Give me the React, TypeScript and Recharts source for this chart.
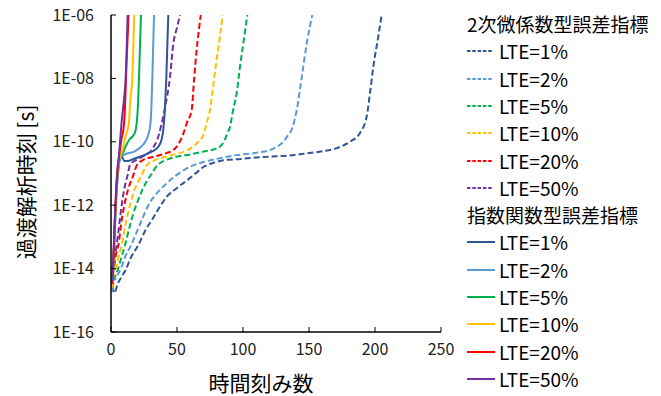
import React from 'react';
import { LineChart, Line, XAxis, YAxis } from 'recharts';

// ---- data: [time-step count, transient analysis time (s)] ----
// 2次微係数型誤差指標 (dashed)
const quadLte1: [number, number][] = [
  [1, 2.8e-15], [2.5, 1.7e-15], [5, 3.2e-15], [8, 5.6e-15], [11, 8.9e-15], [15, 2.2e-14],
  [20.7, 5.5e-14], [26, 1.6e-13], [32, 4.0e-13], [37, 8.9e-13], [42, 1.8e-12], [50, 3.5e-12],
  [58, 6.3e-12], [64, 1.0e-11], [70, 1.6e-11], [78, 2.2e-11], [88, 2.7e-11], [95, 2.8e-11],
  [110, 3.2e-11], [120, 3.4e-11], [135, 3.7e-11], [146, 4.2e-11], [160, 5.0e-11], [171, 6.3e-11],
  [181, 1.0e-10], [188.6, 1.9e-10], [193.7, 6.3e-10], [196.2, 3.4e-9], [198.7, 2.3e-8],
  [202.5, 2.1e-7], [205, 1e-6],
];
const quadLte2: [number, number][] = [
  [1, 5.6e-15], [3, 4.5e-15], [5, 6.3e-15], [7.5, 1.0e-14], [11, 2.5e-14], [15.2, 5.5e-14],
  [20, 1.6e-13], [24, 4.0e-13], [28.3, 1.0e-12], [34, 2.2e-12], [41, 4.4e-12], [48, 7.9e-12],
  [55, 1.26e-11], [62, 1.8e-11], [70, 2.3e-11], [82, 3.0e-11], [95, 3.8e-11], [105, 4.2e-11],
  [113, 4.7e-11], [120.5, 5.5e-11], [126, 7.1e-11], [130.5, 1.0e-10], [134, 1.6e-10],
  [137, 2.5e-10], [140.7, 1.0e-9], [144.5, 1.1e-8], [148.3, 1.26e-7], [152.5, 1e-6],
];
const quadLte5: [number, number][] = [
  [1, 4.5e-15], [3, 5.6e-15], [5, 8.9e-15], [7.5, 2.0e-14], [10.6, 5.5e-14], [14, 2.0e-13],
  [17, 5.6e-13], [20, 1.26e-12], [24, 3.2e-12], [27, 5.6e-12], [31, 1.0e-11], [34, 1.6e-11],
  [37, 2.1e-11], [43, 2.8e-11], [50, 3.4e-11], [60, 4.0e-11], [70, 4.9e-11], [77, 5.6e-11],
  [82.6, 7.1e-11], [86, 1.1e-10], [88, 1.8e-10], [90.2, 3.0e-10], [92.5, 1.0e-9], [95.2, 3.4e-9],
  [97.5, 2.0e-8], [100.2, 1.26e-7], [103.3, 1e-6],
];
const quadLte10: [number, number][] = [
  [1, 5.0e-15], [3, 7.9e-15], [5.5, 2.2e-14], [8.1, 5.5e-14], [11, 2.5e-13], [14.4, 1.0e-12],
  [18, 3.2e-12], [23.2, 8.9e-12], [27, 1.8e-11], [32, 2.5e-11], [37, 3.0e-11], [43, 3.5e-11],
  [50, 4.2e-11], [56, 5.0e-11], [62.3, 7.1e-11], [66, 1.0e-10], [69.9, 1.6e-10], [72.5, 4.0e-10],
  [75, 1.0e-9], [77.5, 6.3e-9], [80, 3.8e-8], [82.5, 2.0e-7], [84.6, 1e-6],
];
const quadLte20: [number, number][] = [
  [1, 6.3e-15], [2.5, 1.26e-14], [4, 3.2e-14], [5.6, 5.5e-14], [8, 3.2e-13], [10.1, 1.0e-12],
  [13, 3.2e-12], [16.9, 8.9e-12], [19.5, 1.8e-11], [24.5, 2.7e-11], [30, 3.2e-11], [36, 3.7e-11],
  [42, 4.4e-11], [47.2, 5.5e-11], [51, 8.3e-11], [54.8, 1.8e-10], [57.5, 4.0e-10], [61.1, 1.0e-9],
  [63, 1.0e-8], [64.9, 7.9e-8], [66.5, 3.2e-7], [68, 1e-6],
];
const quadLte50: [number, number][] = [
  [1, 1.0e-14], [2.5, 2.0e-14], [4.3, 5.5e-14], [6, 2.0e-13], [8.1, 1.0e-12], [10, 3.2e-12],
  [12.6, 8.9e-12], [14.4, 1.9e-11], [17, 2.4e-11], [20, 2.8e-11], [25.8, 3.8e-11], [30, 5.0e-11],
  [32.5, 7.1e-11], [35, 1.15e-10], [38, 3.2e-10], [41, 1.26e-9], [44.7, 1.1e-8], [47.2, 1.26e-7],
  [50, 4.0e-7], [52.3, 1e-6],
];

// 指数関数型誤差指標 (solid)
const expLte1: [number, number][] = [
  [1, 2.0e-15], [2, 2.0e-14], [3, 2.5e-13], [4, 2.0e-12], [5, 7.9e-12], [6, 2.0e-11],
  [7.8, 3.8e-11], [10, 2.5e-11], [13, 2.5e-11], [18, 3.0e-11], [23, 3.5e-11], [27.5, 4.2e-11],
  [32, 5.2e-11], [36, 7.1e-11], [38.5, 1.26e-10], [39.5, 2.2e-10], [40.8, 1.0e-9], [41.9, 1.0e-8],
  [43.4, 1e-6],
];
const expLte2: [number, number][] = [
  [1, 2.0e-15], [2, 2.0e-14], [3, 2.5e-13], [4, 2.0e-12], [5, 7.9e-12], [6, 2.0e-11],
  [8, 3.5e-11], [11.6, 4.2e-11], [18, 5.0e-11], [23, 7.1e-11], [26.5, 1.1e-10], [28.5, 1.8e-10],
  [29.5, 2.8e-10], [30.3, 6.3e-10], [31.3, 1.0e-8], [32.6, 1e-6],
];
const expLte5: [number, number][] = [
  [1, 2.5e-15], [2, 2.5e-14], [3, 3.2e-13], [4, 2.5e-12], [5, 1.0e-11], [6, 2.5e-11],
  [8, 3.8e-11], [9.3, 4.7e-11], [11.6, 7.9e-11], [14.1, 1.2e-10], [17, 1.6e-10], [18.5, 2.2e-10],
  [19.5, 4.0e-10], [20.5, 1.6e-9], [21.2, 1.0e-8], [22.7, 1e-6],
];
const expLte10: [number, number][] = [
  [1, 2.5e-15], [2, 2.5e-14], [3, 3.2e-13], [4, 2.5e-12], [5, 1.0e-11], [6, 2.5e-11],
  [7, 3.5e-11], [8, 4.5e-11], [9, 6.3e-11], [10.5, 1.15e-10], [12, 2.0e-10], [13.6, 4.0e-10],
  [14.6, 2.0e-9], [16.1, 1.0e-8], [17.6, 1e-6],
];
const expLte20: [number, number][] = [
  [1, 3.2e-15], [2, 3.2e-14], [3, 4.0e-13], [4, 3.2e-12], [5, 1.26e-11], [6, 3.2e-11],
  [7, 6.3e-11], [8, 1.26e-10], [9.3, 2.3e-10], [10.1, 4.9e-10], [10.8, 2.1e-9], [11.8, 3.2e-8],
  [13.3, 1e-6],
];
const expLte50: [number, number][] = [
  [1, 4.0e-15], [2, 4.0e-14], [3, 5.0e-13], [4, 4.0e-12], [5, 1.6e-11], [6, 3.5e-11],
  [7, 1.26e-10], [8, 4.0e-10], [9.8, 2.1e-9], [11.1, 1.0e-8], [12.6, 1e-6],
];

const lteLabels = ['LTE=1%', 'LTE=2%', 'LTE=5%', 'LTE=10%', 'LTE=20%', 'LTE=50%'];
const lteColors = ['#2F5597', '#5B9BD5', '#00B050', '#FFC000', '#FF0000', '#7030A0'];
const groupTitles = ['2次微係数型誤差指標', '指数関数型誤差指標'];

const xTicks = [0, 50, 100, 150, 200, 250];
const yTicks = [1e-16, 1e-14, 1e-12, 1e-10, 1e-8, 1e-6];
const yTickLabels = ['1E-16', '1E-14', '1E-12', '1E-10', '1E-08', '1E-06'];

const xTitle = '時間刻み数';
const yTitle = '過渡解析時刻 [s]';

const quadSeries = [quadLte1, quadLte2, quadLte5, quadLte10, quadLte20, quadLte50];
const expSeries = [expLte1, expLte2, expLte5, expLte10, expLte20, expLte50];

const toPoints = (rows: [number, number][]) => rows.map(([x, y]) => ({ x, y }));

const FONT = '"Noto Sans CJK JP", "Noto Sans", sans-serif';
const DASH = '6 3';

const formatY = (v: number) => {
  let best = 0;
  yTicks.forEach((t, i) => {
    if (Math.abs(Math.log10(t) - Math.log10(v)) < Math.abs(Math.log10(yTicks[best]) - Math.log10(v))) best = i;
  });
  return yTickLabels[best];
};

const LegendRow = ({ top, color, dashed, label }: { top: number; color: string; dashed: boolean; label: string }) => (
  <div style={{ position: 'absolute', left: 0, top, height: 24, display: 'flex', alignItems: 'center' }}>
    <svg width={30} height={24} style={{ display: 'block' }}>
      <line x1={0} y1={12} x2={dashed ? 26 : 28} y2={12} stroke={color} strokeWidth={2}
        strokeDasharray={dashed ? '3.5 1.8' : undefined} />
    </svg>
    <span style={{ marginLeft: 2, fontSize: 19, color: '#000', whiteSpace: 'nowrap', lineHeight: '24px' }}>{label}</span>
  </div>
);

export default function App() {
  const rowStep = 27.3;
  const legendItems: React.ReactNode[] = [];
  let idx = 0;
  groupTitles.forEach((title, g) => {
    legendItems.push(
      <div key={`h${g}`} style={{ position: 'absolute', left: 0, top: idx * rowStep, height: 24, lineHeight: '24px', fontSize: 19, whiteSpace: 'nowrap', color: '#000' }}>
        {title}
      </div>
    );
    idx += 1;
    lteLabels.forEach((lab, i) => {
      legendItems.push(
        <LegendRow key={`r${g}-${i}`} top={idx * rowStep} color={lteColors[i]} dashed={g === 0} label={lab} />
      );
      idx += 1;
    });
  });

  return (
    <div style={{ position: 'absolute', left: 0, top: 0, width: 661, height: 396, background: '#fff', fontFamily: FONT, overflow: 'hidden' }}>
      <LineChart width={661} height={396} margin={{ top: 15, right: 220, bottom: 34, left: 0 }}>
        <XAxis xAxisId="bottom" dataKey="x" type="number" domain={[0, 250]} ticks={xTicks}
          allowDataOverflow height={30}
          axisLine={{ stroke: '#000', strokeWidth: 1.5 }} tickLine={{ stroke: '#000' }} tickSize={-5} tickMargin={17}
          tick={{ fill: '#222', fontSize: 16, fontFamily: FONT }} />
        <XAxis xAxisId="top" orientation="top" dataKey="x" type="number" domain={[0, 250]} height={0}
          tick={false} tickLine={false} axisLine={{ stroke: '#000', strokeWidth: 1.5 }} />
        <YAxis yAxisId="left" type="number" scale="log" domain={[1e-16, 1e-6]} ticks={yTicks}
          allowDataOverflow width={111} tickFormatter={formatY} interval={0}
          axisLine={{ stroke: '#000', strokeWidth: 1.5 }} tickLine={{ stroke: '#000' }} tickSize={-5} tickMargin={22}
          tick={{ fill: '#222', fontSize: 16, fontFamily: FONT }} />
        <YAxis yAxisId="right" orientation="right" type="number" domain={[0, 1]} width={0}
          tick={false} tickLine={false} axisLine={{ stroke: '#000', strokeWidth: 1.5 }} />
        {quadSeries.map((rows, i) => (
          <Line key={`q${i}`} xAxisId="bottom" yAxisId="left" data={toPoints(rows)} dataKey="y"
            type="monotone" stroke={lteColors[i]} strokeWidth={2} strokeDasharray={DASH}
            dot={false} activeDot={false} isAnimationActive={false} name={`${groupTitles[0]} ${lteLabels[i]}`} />
        ))}
        {expSeries.map((rows, i) => (
          <Line key={`e${i}`} xAxisId="bottom" yAxisId="left" data={toPoints(rows)} dataKey="y"
            type="monotone" stroke={lteColors[i]} strokeWidth={2}
            dot={false} activeDot={false} isAnimationActive={false} name={`${groupTitles[1]} ${lteLabels[i]}`} />
        ))}
      </LineChart>

      <div style={{ position: 'absolute', left: 25, top: 182, transform: 'translate(-50%, -50%) rotate(-90deg)', fontSize: 21, lineHeight: 1, whiteSpace: 'nowrap', color: '#000' }}>
        {yTitle}
      </div>
      <div style={{ position: 'absolute', left: 261, top: 382, transform: 'translate(-50%, -50%)', fontSize: 21, lineHeight: 1, whiteSpace: 'nowrap', color: '#000' }}>
        {xTitle}
      </div>

      <div style={{ position: 'absolute', left: 467, top: 12, width: 194, height: 384 }}>
        {legendItems}
      </div>
    </div>
  );
}
